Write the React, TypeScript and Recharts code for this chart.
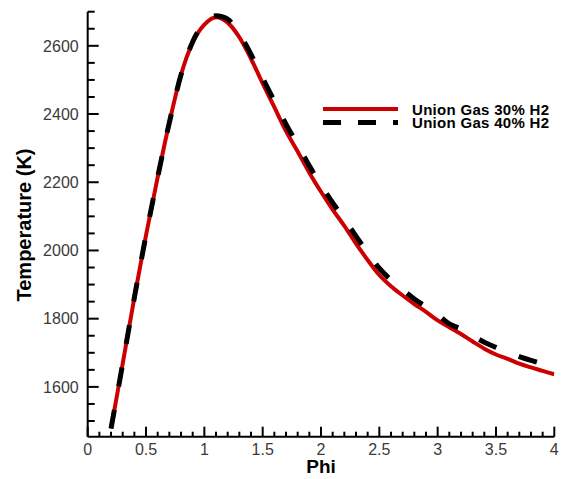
import React from "react";
import { LineChart, Line, XAxis, YAxis, Legend } from "recharts";

const phiValues = [0.2, 0.3, 0.4, 0.5, 0.6, 0.7, 0.8, 0.9, 1.0, 1.1, 1.2, 1.3, 1.4, 1.5, 1.6, 1.7, 1.8, 1.9, 2.0, 2.1, 2.2, 2.3, 2.4, 2.5, 2.6, 2.7, 2.8, 2.9, 3.0, 3.1, 3.2, 3.3, 3.4, 3.5, 3.6, 3.7, 3.8, 3.9, 4.0];
const temp30 = [1478, 1668, 1862, 2045, 2215, 2375, 2515, 2610, 2662, 2684, 2668, 2625, 2562, 2490, 2420, 2350, 2290, 2228, 2172, 2120, 2072, 2020, 1972, 1928, 1895, 1868, 1843, 1820, 1795, 1775, 1755, 1733, 1712, 1695, 1682, 1668, 1657, 1647, 1637];
const temp40 = [1478, 1668, 1862, 2045, 2215, 2375, 2515, 2612, 2667, 2688, 2678, 2635, 2575, 2505, 2438, 2370, 2310, 2248, 2192, 2140, 2092, 2042, 1993, 1948, 1913, 1885, 1858, 1835, 1812, 1785, 1770, 1750, 1731, 1716, 1702, 1689, 1678, 1668, 1659];

const seriesNames = ["Union Gas 30% H2", "Union Gas 40% H2"];
const xTicks = Array.from({ length: 41 }, (_, i) => Math.round(i) / 10);
const yTicks = Array.from({ length: 25 }, (_, i) => 1500 + i * 50);

const data = phiValues.map((p, i) => ({ phi: p, t30: temp30[i], t40: temp40[i] }));

const TICK_FONT = "'Liberation Sans', Arial, sans-serif";

const YTick = (props: any) => {
  const { x, y, payload } = props;
  const v = payload.value;
  const major = v % 200 === 0;
  return (
    <g>
      <line x1={x} x2={x + (major ? 11 : 7)} y1={y} y2={y} stroke="#000" strokeWidth={2} />
      {major && (
        <text x={x - 9} y={y} dy="0.36em" textAnchor="end" fontSize={16} fill="#3a3a3a" fontFamily={TICK_FONT}>
          {v}
        </text>
      )}
    </g>
  );
};

const XTick = (props: any) => {
  const { x, y, payload } = props;
  const v = payload.value;
  const major = Math.abs(v * 2 - Math.round(v * 2)) < 1e-6;
  return (
    <g>
      <line x1={x} x2={x} y1={y} y2={y - (major ? 10 : 5)} stroke="#000" strokeWidth={2} />
      {major && (
        <text x={x} y={y + 18.5} textAnchor="middle" fontSize={16} fill="#3a3a3a" fontFamily={TICK_FONT}>
          {String(Math.round(v * 10) / 10)}
        </text>
      )}
    </g>
  );
};

const LegendContent = () => (
  <svg width={250} height={40} style={{ display: "block", overflow: "visible" }}>
    <line x1={5} x2={80} y1={14} y2={14} stroke="#cc0000" strokeWidth={4} />
    <line x1={5} x2={80} y1={27.5} y2={27.5} stroke="#000" strokeWidth={5} strokeDasharray="18 17" />
    <text x={94} y={20} fontSize={15} fontWeight="bold" letterSpacing={0.3} fontFamily={TICK_FONT} fill="#000">
      {seriesNames[0]}
    </text>
    <text x={94} y={33.3} fontSize={15} fontWeight="bold" letterSpacing={0.3} fontFamily={TICK_FONT} fill="#000">
      {seriesNames[1]}
    </text>
  </svg>
);

export default function App() {
  return (
    <div style={{ position: "absolute", left: 0, top: 0, width: 566, height: 479, background: "#fff" }}>
      <LineChart
        width={566}
        height={479}
        data={data}
        margin={{ top: 11.7, right: 11.7, bottom: 12.3, left: 27.7 }}
      >
        <XAxis
          dataKey="phi"
          type="number"
          domain={[0, 4]}
          ticks={xTicks}
          interval={0}
          allowDataOverflow
          height={30}
          tickSize={0}
          tickMargin={0}
          tickLine={false}
          tick={<XTick />}
          axisLine={{ stroke: "#000", strokeWidth: 2 }}
          label={{
            content: () => (
              <text x={321} y={473.3} textAnchor="middle" fontSize={19} fontWeight="bold" fontFamily={TICK_FONT} fill="#000">
                Phi
              </text>
            ),
          }}
        />
        <YAxis
          type="number"
          domain={[1454, 2700]}
          ticks={yTicks}
          interval={0}
          allowDataOverflow
          width={60}
          tickSize={0}
          tickMargin={0}
          tickLine={false}
          tick={<YTick />}
          axisLine={{ stroke: "#000", strokeWidth: 2 }}
          label={{
            content: () => (
              <text
                x={30.5}
                y={225}
                textAnchor="middle"
                fontSize={20}
                fontWeight="bold"
                fontFamily={TICK_FONT}
                fill="#000"
                transform="rotate(-90 30.5 225)"
              >
                Temperature (K)
              </text>
            ),
          }}
        />
        <Legend
          layout="vertical"
          align="center"
          verticalAlign="middle"
          wrapperStyle={{ left: 318, top: 95, width: 250, height: 40 }}
          content={<LegendContent />}
        />
        <Line
          type="monotone"
          dataKey="t30"
          name={seriesNames[0]}
          stroke="#cc0000"
          strokeWidth={4}
          dot={false}
          activeDot={false}
          isAnimationActive={false}
        />
        <Line
          type="monotone"
          dataKey="t40"
          name={seriesNames[1]}
          stroke="#000"
          strokeWidth={5}
          strokeDasharray="19 24"
          dot={false}
          activeDot={false}
          isAnimationActive={false}
        />
      </LineChart>
    </div>
  );
}
